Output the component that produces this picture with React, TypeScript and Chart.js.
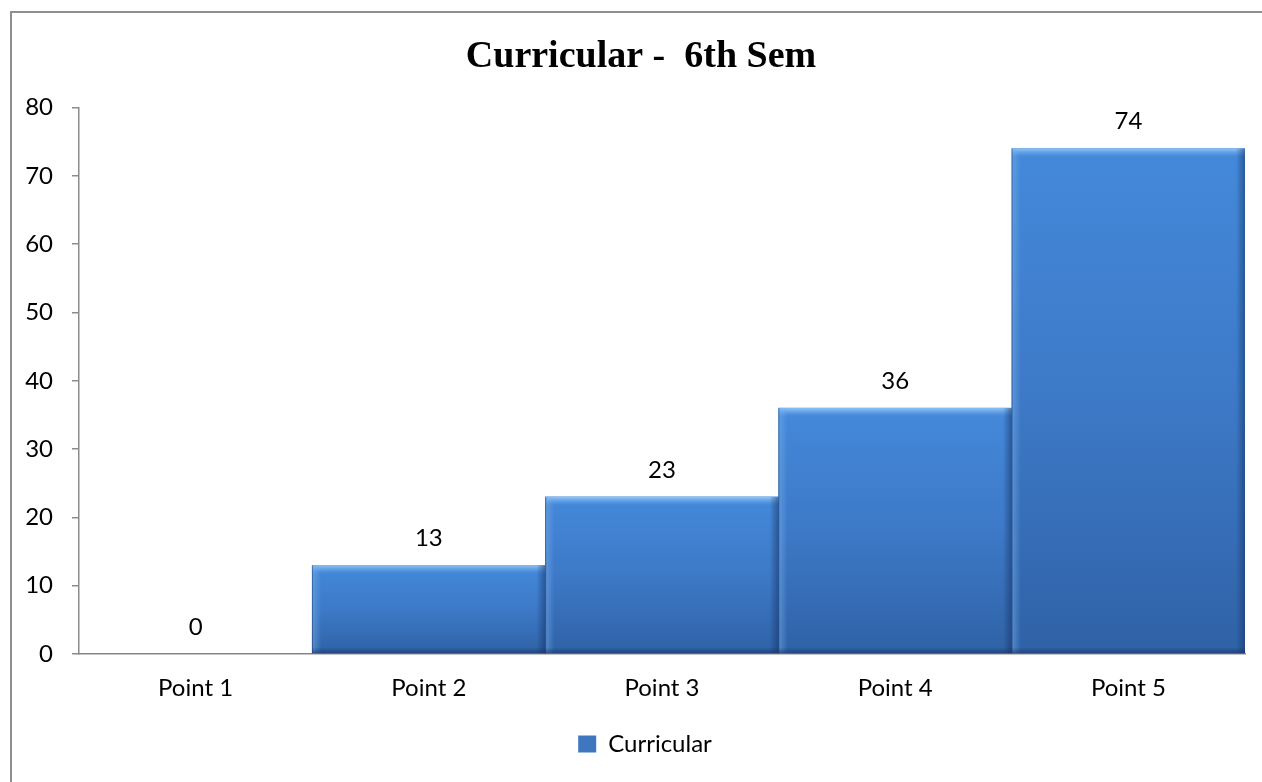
import React, { useEffect, useRef } from "react";
import { Chart, registerables } from "chart.js";

Chart.register(...registerables);

const titleText = "Curricular -  6th Sem";
const seriesName = "Curricular";
const categories = ["Point 1", "Point 2", "Point 3", "Point 4", "Point 5"];
const curricularValues = [0, 13, 23, 36, 74];
const yMin = 0;
const yMax = 80;
const yStep = 10;

const FONT = "Lato";
const FS = 24;

const ok = (...n: number[]) => n.every((v) => Number.isFinite(v));

// Shift the centring boxes of title and legend (the original chart centres them over the frame)
const centring = {
  id: "centring",
  afterLayout(chart: any) {
    if (chart.titleBlock) chart.titleBlock.left = 37;
    if (chart.legend) chart.legend.left = 45;
  },
};

const barStyle = {
  id: "barBevel",
  afterDatasetsDraw(chart: any) {
    const ctx = chart.ctx as CanvasRenderingContext2D;
    const meta = chart.getDatasetMeta(0);
    meta.data.forEach((bar: any, i: number) => {
      const p = bar.getProps(["x", "y", "base", "width"], true);
      if (!ok(p.x, p.y, p.base, p.width)) return;
      const l = p.x - p.width / 2;
      const r = p.x + p.width / 2;
      const t = Math.min(p.y, p.base);
      const b = Math.max(p.y, p.base);
      const w = r - l;
      if (b - t >= 1) {
        ctx.save();
        const h = Math.min(9, (b - t) / 2);
        let g = ctx.createLinearGradient(0, t, 0, t + h);
        g.addColorStop(0, "rgba(150,200,248,0.95)");
        g.addColorStop(0.5, "rgba(110,170,235,0.6)");
        g.addColorStop(1, "rgba(80,140,220,0)");
        ctx.fillStyle = g;
        ctx.fillRect(l, t, w, h);
        g = ctx.createLinearGradient(l, 0, l + 9, 0);
        g.addColorStop(0, "rgba(30,60,110,0.7)");
        g.addColorStop(0.15, "rgba(120,175,235,0.45)");
        g.addColorStop(1, "rgba(120,175,235,0)");
        ctx.fillStyle = g;
        ctx.fillRect(l, t, 9, b - t);
        g = ctx.createLinearGradient(r - 9, 0, r, 0);
        g.addColorStop(0, "rgba(20,50,100,0)");
        g.addColorStop(1, "rgba(20,50,100,0.55)");
        ctx.fillStyle = g;
        ctx.fillRect(r - 9, t, 9, b - t);
        g = ctx.createLinearGradient(0, b - 6, 0, b);
        g.addColorStop(0, "rgba(20,45,90,0)");
        g.addColorStop(1, "rgba(20,45,90,0.55)");
        ctx.fillStyle = g;
        ctx.fillRect(l, b - 6, w, 6);
        ctx.restore();
      }
      ctx.save();
      ctx.font = `${FS}px ${FONT}`;
      ctx.fillStyle = "#000";
      ctx.textAlign = "center";
      ctx.textBaseline = "middle";
      ctx.fillText(String(curricularValues[i]), p.x, p.y - 27);
      ctx.restore();
    });
  },
};

export default function App() {
  const ref = useRef<HTMLCanvasElement | null>(null);

  useEffect(() => {
    const canvas = ref.current;
    if (!canvas) return;
    const chart = new Chart(canvas, {
      type: "bar",
      data: {
        labels: categories,
        datasets: [
          {
            label: seriesName,
            data: curricularValues,
            barPercentage: 1,
            categoryPercentage: 1,
            borderWidth: 0,
            backgroundColor: (c: any) => {
              const ch = c.chart;
              const ys = ch.scales?.y;
              if (c.type !== "data" || !ys) return "#4a7ec4";
              const v = c.raw as number;
              const top = ys.getPixelForValue(v);
              const bottom = ys.getPixelForValue(0);
              if (!ok(top, bottom) || bottom - top < 1) return "#3f76c0";
              const g = ch.ctx.createLinearGradient(0, top, 0, bottom);
              g.addColorStop(0, "#4489da");
              g.addColorStop(0.5, "#3d79c7");
              g.addColorStop(1, "#2f62a6");
              return g;
            },
          },
        ],
      },
      options: {
        responsive: false,
        animation: false,
        layout: { padding: { left: 0, right: 17, top: 0, bottom: 16 } },
        plugins: {
          title: {
            display: true,
            text: titleText,
            color: "#000",
            font: { family: "Liberation Serif", size: 38, weight: "bold", lineHeight: 1.2 },
            padding: { top: 34, bottom: 28 },
          },
          legend: {
            display: true,
            position: "bottom",
            labels: {
              color: "#000",
              font: { family: FONT, size: FS },
              boxWidth: 18,
              boxHeight: 17,
              padding: 10,
            },
          },
          tooltip: { enabled: false },
        },
        scales: {
          x: {
            grid: { display: false, drawTicks: false },
            border: { display: true, color: "#8c8c8c", width: 1.5 },
            ticks: { color: "#000", font: { family: FONT, size: FS }, padding: 20 },
            afterFit: (s: any) => {
              s.height = 68;
            },
          },
          y: {
            min: yMin,
            max: yMax,
            grid: {
              display: true,
              drawOnChartArea: false,
              drawTicks: true,
              tickLength: 7,
              color: "#8c8c8c",
              lineWidth: 1.5,
            },
            border: { display: true, color: "#8c8c8c", width: 1.5 },
            ticks: {
              stepSize: yStep,
              color: "#000",
              font: { family: FONT, size: FS },
              padding: 19,
            },
            afterFit: (s: any) => {
              s.width = 79;
            },
          },
        },
      },
      plugins: [centring, barStyle],
    } as any);
    return () => chart.destroy();
  }, []);

  return (
    <div style={{ position: "fixed", left: 0, top: 0, width: 1262, height: 782, overflow: "hidden", background: "#fff" }}>
      <div
        style={{
          position: "absolute",
          left: 10,
          top: 11,
          width: 1300,
          height: 820,
          borderLeft: "2px solid #8f8f8f",
          borderTop: "2px solid #8f8f8f",
        }}
      />
      <canvas ref={ref} width={1262} height={782} style={{ position: "absolute", left: 0, top: 0 }} />
    </div>
  );
}
